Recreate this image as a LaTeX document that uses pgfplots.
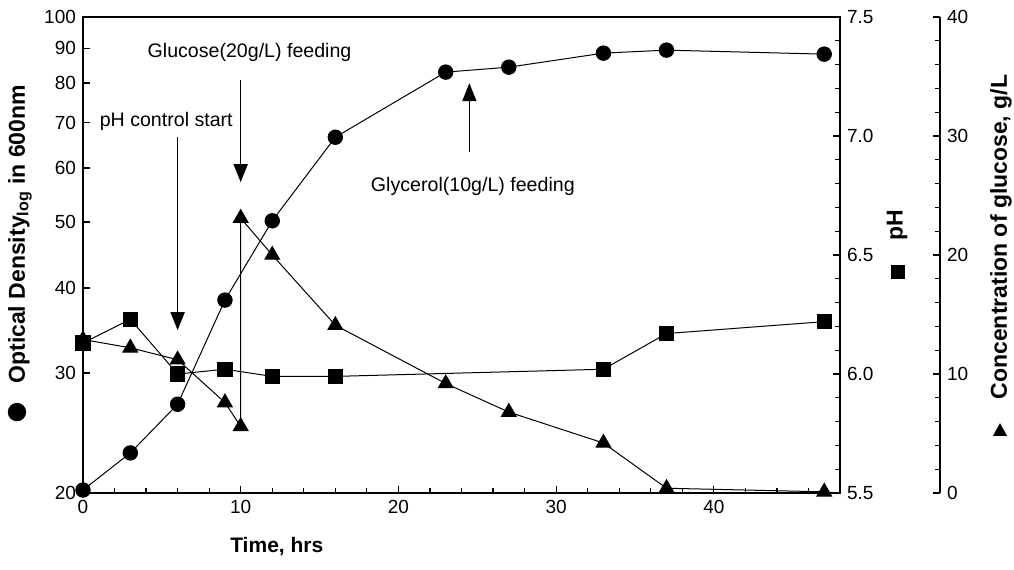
\documentclass[border=0pt]{standalone}
\usepackage{fontspec}
\setmainfont{Liberation Sans}
\usepackage{pgfplots}
\pgfplotsset{compat=1.18}
\usetikzlibrary{arrows.meta}

\pgfplotstableread{
x y
0 20.2
3 22.9
6 27.0
9 38.4
12 50.2
16 66.6
23 83.0
27 84.4
33 88.5
37 89.4
47 88.2
}\ODdata

\pgfplotstableread{
x y
0 6.13
3 6.23
6 6.00
9 6.02
12 5.99
16 5.99
33 6.02
37 6.17
47 6.22
}\pHdata

\pgfplotstableread{
x y
0 12.9
3 12.2
6 11.2
9 7.6
10 5.6
10 23.1
12 20.0
16 14.1
23 9.2
27 6.8
33 4.2
37 0.4
47 0.1
}\Gludata

\begin{document}
\begin{tikzpicture}[font=\fontsize{9.8}{11}\selectfont]
\useasboundingbox (-41.5pt,-38pt) rectangle (465.5pt,246.5pt);
\pgfplotsset{
  every axis/.append style={
    scale only axis, height=238pt,
    at={(0,0)}, anchor=south west,
    /pgf/number format/assume math mode=true,
    tick align=inside,
    major tick length=3.5pt, minor tick length=2.5pt,
    tick style={black, line width=0.6pt},
    axis line style={line width=0.9pt},
    ticklabel style={font=\fontsize{9.5}{11}\selectfont},
    clip=false,
  }
}
% main axis: optical density
\begin{axis}[
  width=378.5pt,
  xmin=0, xmax=48,
  ymode=log, ymin=20, ymax=100,
  ytick={20,30,40,50,60,70,80,90,100},
  yticklabels={20,30,40,50,60,70,80,90,100},
  minor ytick={},
  xtick={0,10,20,30,40},
  minor xtick={2,4,6,8,12,14,16,18,22,24,26,28,32,34,36,38,42,44,46},
  xtick pos=bottom, ytick pos=left,
]
\addplot[black, line width=0.5pt, mark=*, mark size=3.6pt] table[x=x,y=y] {\ODdata};

% annotations
\node at (rel axis cs:0.110,0.781) {pH control start};
\draw[line width=0.8pt, -{Triangle[width=7pt,length=9pt]}] (rel axis cs:0.125,0.748) -- (rel axis cs:0.125,0.342);
\node at (rel axis cs:0.220,0.926) {Glucose(20g/L) feeding};
\draw[line width=0.8pt, -{Triangle[width=7pt,length=9pt]}] (rel axis cs:0.2083,0.868) -- (rel axis cs:0.2083,0.653);
\node at (rel axis cs:0.515,0.643) {Glycerol(10g/L) feeding};
\draw[line width=0.8pt, -{Triangle[width=7pt,length=9pt]}] (rel axis cs:0.5104,0.716) -- (rel axis cs:0.5104,0.861);

% axis labels
\node[font=\bfseries\fontsize{10.5}{12}\selectfont] at (rel axis cs:0.256,-0.113) {Time, hrs};
\fill[black] (rel axis cs:-0.0872,0.170) circle (4.6pt);
\node[rotate=90, anchor=west, font=\bfseries\fontsize{11.5}{13}\selectfont] at (rel axis cs:-0.0832,0.215) {Optical Density\textsubscript{log} in 600nm};
\fill[black] ([xshift=-3.5pt,yshift=-3.5pt]rel axis cs:1.0766,0.464) rectangle ([xshift=3.5pt,yshift=3.5pt]rel axis cs:1.0766,0.464);
\node[rotate=90, font=\bfseries\fontsize{11.5}{13}\selectfont] at (rel axis cs:1.0753,0.563) {pH};
\fill[black] ([xshift=-3.5pt,yshift=-2.8pt]rel axis cs:1.2114,0.132) -- ([xshift=3.5pt,yshift=-2.8pt]rel axis cs:1.2114,0.132) -- ([yshift=3.5pt]rel axis cs:1.2114,0.132) -- cycle;
\node[rotate=90, anchor=west, font=\bfseries\fontsize{11.5}{13}\selectfont] at (rel axis cs:1.2127,0.182) {Concentration of glucose, g/L};
\end{axis}

% pH axis
\begin{axis}[
  width=378.5pt,
  xmin=0, xmax=48,
  ymin=5.5, ymax=7.5,
  axis x line=none, axis y line*=right,
  ytick={5.5,6.0,6.5,7.0,7.5},
  yticklabels={5.5,6.0,6.5,7.0,7.5},
  minor ytick={5.6,5.7,5.8,5.9,6.1,6.2,6.3,6.4,6.6,6.7,6.8,6.9,7.1,7.2,7.3,7.4},
]
\addplot[black, line width=0.5pt, mark=square*, mark size=3.6pt] table[x=x,y=y] {\pHdata};
\end{axis}

% glucose axis (offset to the right)
\begin{axis}[
  width=428.5pt,
  xmin=0, xmax=54.34,
  ymin=0, ymax=40,
  axis x line=none, axis y line*=right,
  ytick={0,10,20,30,40},
  minor ytick={2,4,6,8,12,14,16,18,22,24,26,28,32,34,36,38},
]
\addplot[black, line width=0.5pt, mark=triangle*, mark size=4.2pt] table[x=x,y=y] {\Gludata};
\end{axis}
\end{tikzpicture}
\end{document}
